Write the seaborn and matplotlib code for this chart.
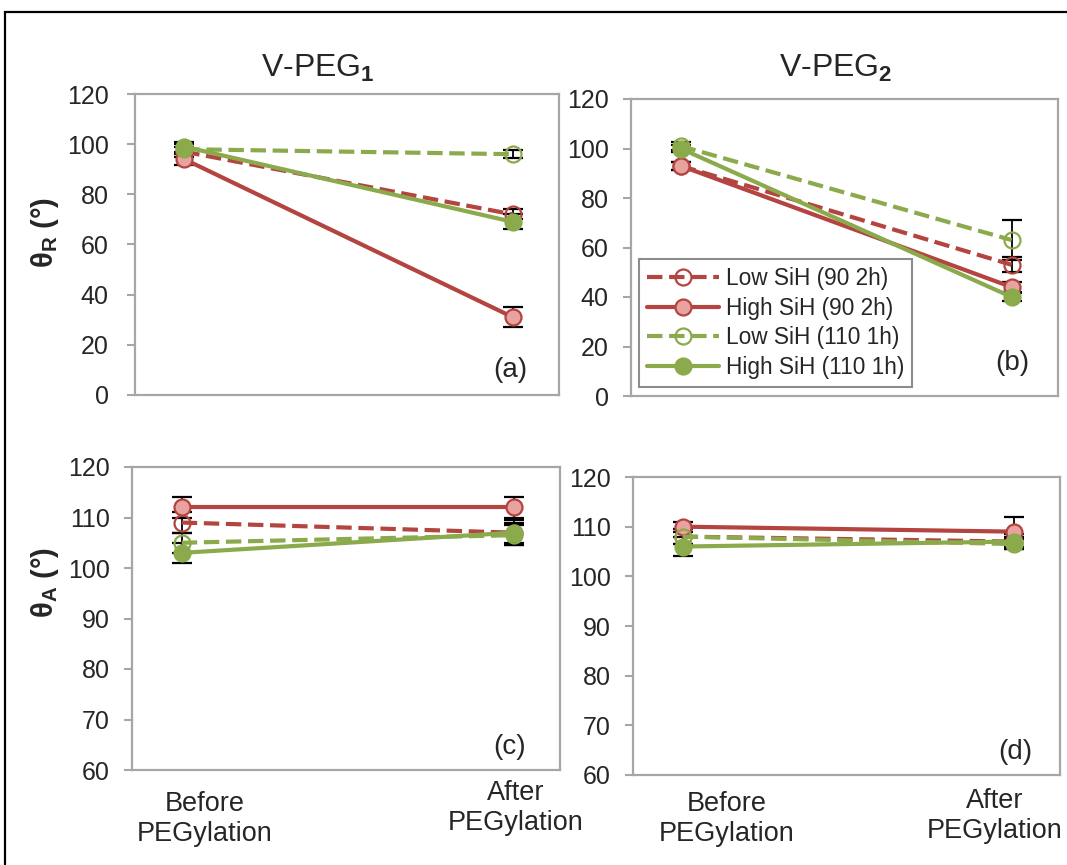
import numpy as np
import pandas as pd
import matplotlib
matplotlib.use("Agg")
import matplotlib.pyplot as plt
import seaborn as sns
from matplotlib.patches import Rectangle

# ---------------- data ----------------
stages = ["Before\nPEGylation", "After\nPEGylation"]
series_names = ["Low SiH (90 2h)", "High SiH (90 2h)", "Low SiH (110 1h)", "High SiH (110 1h)"]
titles = ["V-PEG$_\\mathbf{1}$", "V-PEG$_\\mathbf{2}$"]
panel_tags = ["(a)", "(b)", "(c)", "(d)"]

# (a) V-PEG1, receding angle
a_low90 = [97, 72];   a_low90_err = [2, 2]
a_high90 = [94, 31];  a_high90_err = [2.5, 4]
a_low110 = [98, 96];  a_low110_err = [2, 1.5]
a_high110 = [99, 69]; a_high110_err = [2, 3]

# (b) V-PEG2, receding angle
b_low90 = [93, 53];   b_low90_err = [1.5, 3]
b_high90 = [93, 44];  b_high90_err = [1.5, 2]
b_low110 = [101, 63]; b_low110_err = [1.5, 8]
b_high110 = [100, 40]; b_high110_err = [1.5, 1.5]

# (c) V-PEG1, advancing angle
c_low90 = [109, 107];   c_low90_err = [2, 2]
c_high90 = [112, 112];  c_high90_err = [2, 2]
c_low110 = [105, 106.5]; c_low110_err = [2, 2]
c_high110 = [103, 107]; c_high110_err = [2, 2.5]

# (d) V-PEG2, advancing angle
d_low90 = [108, 107];   d_low90_err = [1.5, 1]
d_high90 = [110, 109];  d_high90_err = [1, 3]
d_low110 = [108, 106.5]; d_low110_err = [1.5, 1]
d_high110 = [106, 107]; d_high110_err = [2, 1.5]

panels = {
    "a": [(a_low90, a_low90_err), (a_high90, a_high90_err), (a_low110, a_low110_err), (a_high110, a_high110_err)],
    "b": [(b_low90, b_low90_err), (b_high90, b_high90_err), (b_low110, b_low110_err), (b_high110, b_high110_err)],
    "c": [(c_low90, c_low90_err), (c_high90, c_high90_err), (c_low110, c_low110_err), (c_high110, c_high110_err)],
    "d": [(d_low90, d_low90_err), (d_high90, d_high90_err), (d_low110, d_low110_err), (d_high110, d_high110_err)],
}

# ---------------- style ----------------
sns.set_theme(style="white")
plt.rcParams["font.family"] = ["Liberation Sans", "DejaVu Sans"]
plt.rcParams["mathtext.fontset"] = "custom"
plt.rcParams["mathtext.rm"] = "Liberation Sans"
plt.rcParams["mathtext.bf"] = "Liberation Sans:bold"
plt.rcParams["mathtext.it"] = "Liberation Sans:italic"

RED = "#B3443F"
PINK = "#E8A3A1"
GREEN = "#8BAA4C"
GRAY = "#A6A6A6"

styles = [
    dict(color=RED, linestyle="--", mfc="none", mec=RED),
    dict(color=RED, linestyle="-", mfc=PINK, mec=RED),
    dict(color=GREEN, linestyle="--", mfc="none", mec=GREEN),
    dict(color=GREEN, linestyle="-", mfc=GREEN, mec=GREEN),
]

W, H = 1067, 865
fig = plt.figure(figsize=(W / 100, H / 100), dpi=100)

def px_axes(l, t, r, b):
    return fig.add_axes([l / W, 1 - b / H, (r - l) / W, (b - t) / H])

axes = {
    "a": px_axes(135, 94, 559, 395),
    "b": px_axes(631, 99, 1058, 396),
    "c": px_axes(132, 467, 560, 770),
    "d": px_axes(633, 477, 1060, 775),
}
ylims = {"a": (0, 120), "b": (0, 120), "c": (60, 120), "d": (60, 120)}
ysteps = {"a": 20, "b": 20, "c": 10, "d": 10}
ypads = {"a": 13, "b": 10, "c": 10, "d": 10}
tag_pos = {"a": (0.884, 0.083), "b": (0.892, 0.11), "c": (0.883, 0.076), "d": (0.895, 0.077)}

xpos = np.arange(len(stages))

for key, ax in axes.items():
    for i, (vals, errs) in enumerate(panels[key]):
        df = pd.DataFrame({"stage": xpos, "value": vals, "err": errs})
        ax.errorbar(df["stage"], df["value"], yerr=df["err"], fmt="none",
                    ecolor="black", elinewidth=1.3, capsize=7, capthick=1.6, zorder=2)
        st = styles[i]
        sns.lineplot(data=df, x="stage", y="value", ax=ax, color=st["color"],
                     linestyle=st["linestyle"], lw=3.0, marker="o", markersize=11.5,
                     markerfacecolor=st["mfc"], markeredgecolor=st["mec"],
                     markeredgewidth=1.6, label=series_names[i], legend=False, zorder=3)
    lo, hi = ylims[key]
    ax.set_ylim(lo, hi)
    ax.set_yticks(np.arange(lo, hi + 1, ysteps[key]))
    ax.set_xlim(-0.15, 1.14)
    ax.set_xticks([])
    ax.set_xlabel("")
    ax.set_ylabel("")
    ax.tick_params(axis="y", direction="out", length=6, width=1.5, color=GRAY,
                   labelsize=18, pad=ypads[key], left=True)
    for s in ax.spines.values():
        s.set_visible(True)
        s.set_color(GRAY)
        s.set_linewidth(1.6)
    ax.set_facecolor("white")
    tx, ty = tag_pos[key]
    ax.text(tx, ty, panel_tags[list(axes).index(key)], transform=ax.transAxes,
            ha="center", va="center", fontsize=20)

leg = axes["b"].legend(loc="lower left", bbox_to_anchor=(0.018, 0.03), borderaxespad=0,
                       fontsize=16.3, frameon=True, fancybox=False, framealpha=1,
                       edgecolor="#8C8C8C", handlelength=3.2, labelspacing=0.3,
                       borderpad=0.35, handletextpad=0.3)
leg.get_frame().set_linewidth(1.5)

# titles
fig.text(318 / W, 1 - 68 / H, titles[0], ha="center", va="center", fontsize=23)
fig.text(836 / W, 1 - 68 / H, titles[1], ha="center", va="center", fontsize=23)

# y-axis labels
fig.text(45 / W, 1 - 232 / H, "θ$_\\mathbf{R}$ (°)", rotation=90, ha="center", va="center",
         fontsize=21, fontweight="bold")
fig.text(45 / W, 1 - 582 / H, "θ$_\\mathbf{A}$ (°)", rotation=90, ha="center", va="center",
         fontsize=21, fontweight="bold")

# category labels under the bottom panels
cat_pos = [(205, 819), (516, 808), (727, 819), (995, 816)]
for j, (cx, cy) in enumerate(cat_pos):
    fig.text(cx / W, 1 - cy / H, stages[j % 2], ha="center", va="center",
             fontsize=19.5, linespacing=1.2)

# outer frame
fig.patches.append(Rectangle((5 / W, -0.02), 1.2, 1 - 12 / H + 0.02, transform=fig.transFigure,
                             fill=False, ec="black", lw=1.6, zorder=0))

fig.savefig("out.png", dpi=100, facecolor="white")
